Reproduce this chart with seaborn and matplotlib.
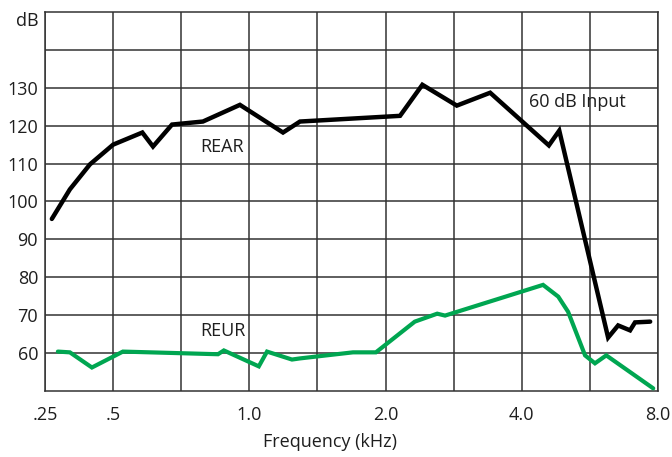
import numpy as np
import pandas as pd
import matplotlib
matplotlib.use("Agg")
import matplotlib.pyplot as plt
import seaborn as sns


# chart values (frequency in kHz, level in dB)
grid_freqs = [0.25, 0.5, 0.75, 1.0, 1.5, 2.0, 3.0, 4.0, 6.0, 8.0]
label_freqs = [0.25, 0.5, 1.0, 2.0, 4.0, 8.0]
label_text = ['.25', '.5', '1.0', '2.0', '4.0', '8.0']
minor_freqs = [0.75, 1.5, 3.0, 6.0]
y_ticks = [60, 70, 80, 90, 100, 110, 120, 130]

rear_freq = [0.268, 0.322, 0.395, 0.5, 0.595, 0.634, 0.71, 0.822, 0.961, 1.222,
             1.352, 2.18, 2.49, 3.04, 3.50, 4.70, 5.0, 6.48, 6.76, 7.11, 7.26, 7.74]
rear_db = [95.4, 103.2, 109.8, 115.0, 118.2, 114.5, 120.3, 121.1, 125.5, 118.2,
           121.1, 122.6, 130.8, 125.3, 128.7, 114.8, 118.7, 64.1, 67.3, 66.0, 68.1, 68.3]

reur_freq = [0.285, 0.322, 0.403, 0.53, 0.876, 0.898, 1.058, 1.111, 1.289, 1.352,
             1.743, 1.92, 2.38, 2.72, 2.85, 4.54, 4.97, 5.27, 5.83, 6.13, 6.43, 7.84]
reur_db = [60.4, 60.2, 56.2, 60.4, 59.7, 60.7, 56.5, 60.4, 58.3, 58.6,
           60.2, 60.2, 68.3, 70.4, 69.9, 78.0, 74.9, 70.9, 59.4, 57.3, 59.4, 50.7]


log_grid = np.log(grid_freqs)
steps = np.arange(len(grid_freqs))


def forward(f):
    f = np.clip(np.asarray(f, dtype=float), 1e-6, None)
    return np.interp(np.log(f), log_grid, steps)


def inverse(x):
    return np.exp(np.interp(np.asarray(x, dtype=float), steps, log_grid))


def main():
    sns.set_style("white")
    plt.rcParams['font.family'] = ['Open Sans', 'DejaVu Sans']
    fs = 13
    text_col = '#1e1e1e'
    grid_col = '#333333'

    rear = pd.DataFrame({'freq': rear_freq, 'db': rear_db})
    reur = pd.DataFrame({'freq': reur_freq, 'db': reur_db})

    fig = plt.figure(figsize=(6.72, 4.57), dpi=100)
    ax = fig.add_axes([45 / 672, 1 - 391 / 457, 613 / 672, 379 / 457])
    ax.set_xscale('function', functions=(forward, inverse))
    ax.set_xlim(0.25, 8.0)
    ax.set_ylim(50, 150)

    sns.lineplot(data=rear, x='freq', y='db', color='black', lw=3.2, ax=ax,
                 sort=False, solid_joinstyle='miter', zorder=3)
    sns.lineplot(data=reur, x='freq', y='db', color='#00a651', lw=3.0, ax=ax,
                 sort=False, solid_joinstyle='miter', zorder=3)

    ax.set_xticks(label_freqs)
    ax.set_xticklabels(label_text)
    ax.set_xticks(minor_freqs, minor=True)
    ax.set_yticks(y_ticks + [140])
    ax.set_yticklabels([str(v) for v in y_ticks] + [''])
    ax.tick_params(axis='x', which='major', length=0, pad=11, labelsize=fs,
                   labelcolor=text_col)
    ax.tick_params(axis='x', which='minor', length=8, width=1.1, color=grid_col,
                   direction='out')
    ax.tick_params(axis='y', length=0, pad=5, labelsize=fs, labelcolor=text_col)

    ax.grid(True, which='both', color=grid_col, lw=1.1)
    for s in ax.spines.values():
        s.set_color(grid_col)
        s.set_linewidth(1.1)

    ax.set_xlabel('Frequency (kHz)', fontsize=fs, color=text_col, va='center')
    ax.xaxis.set_label_coords(0.465, -0.135)
    ax.set_ylabel('')

    ax.text(-0.01, 0.976, 'dB', transform=ax.transAxes, ha='right', va='center',
            fontsize=fs, color=text_col)
    ax.text(0.812, 114.5, 'REAR', ha='left', va='center', fontsize=fs, color=text_col)
    ax.text(0.812, 65.7, 'REUR', ha='left', va='center', fontsize=fs, color=text_col)
    ax.text(4.18, 126.3, '60 dB Input', ha='left', va='center', fontsize=fs,
            color=text_col)

    fig.savefig('out.png', dpi=100)
    plt.close(fig)


if __name__ == "__main__":
    main()
